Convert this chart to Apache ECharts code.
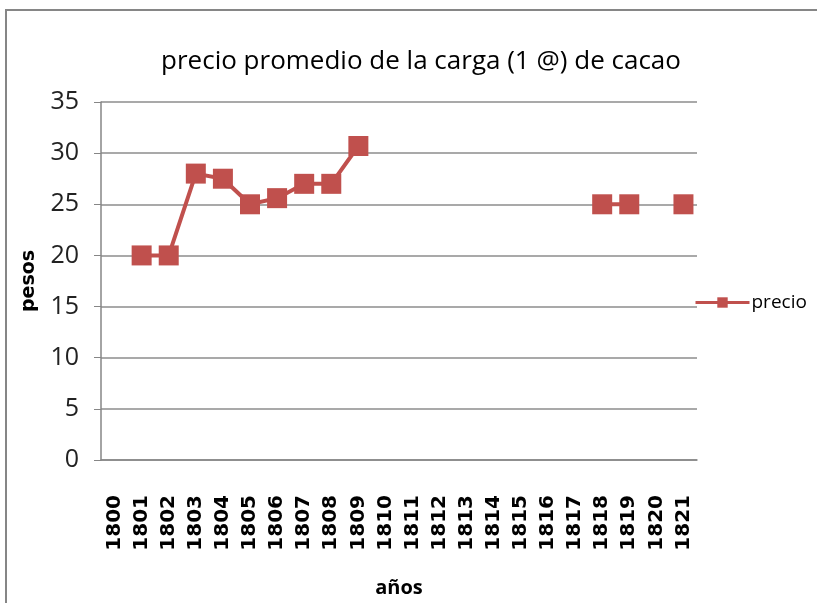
<!DOCTYPE html>
<html>
<head>
<meta charset="utf-8">
<script src="https://cdn.jsdelivr.net/npm/echarts@6/dist/echarts.min.js"></script>
<style>
  html, body { margin: 0; padding: 0; background: #fff; }
  #chart { width: 817px; height: 603px; }
</style>
</head>
<body>
<div id="chart"></div>
<script>
// años y precio promedio (pesos); huecos = sin dato
const years = ['1800', '1801', '1802', '1803', '1804', '1805', '1806', '1807', '1808', '1809', '1810',
  '1811', '1812', '1813', '1814', '1815', '1816', '1817', '1818', '1819', '1820', '1821']
const precio = [null, 20, 20, 28, 27.5, 25, 25.6, 27, 27, 30.7, null,
  null, null, null, null, null, null, null, 25, 25, null, 25]
const yTicks = { min: 0, max: 35, interval: 5 }

const narrow = '"Liberation Sans Narrow", "Open Sans", sans-serif'
const red = '#C0504D'

const chart = echarts.init(document.getElementById('chart'))

chart.setOption({
  animation: false,
  title: {
    text: 'precio promedio de la carga (1 @) de cacao',
    left: 416,
    top: 44,
    textAlign: 'center',
    textStyle: { fontFamily: narrow, fontSize: 26, fontWeight: 'normal', color: '#000' }
  },
  graphic: [{
    type: 'polyline',
    shape: { points: [[6, 603], [6, 10], [817, 10]] },
    style: { stroke: '#868686', lineWidth: 2, fill: null }
  }],
  legend: {
    left: 689,
    top: 288,
    itemWidth: 54,
    itemHeight: 13,
    itemGap: 4,
    lineStyle: { width: 3 },
    textStyle: { fontFamily: narrow, fontSize: 19, color: '#000', padding: [0, 0, 0, -3] },
    data: ['precio']
  },
  grid: { left: 101, right: 120, top: 102, bottom: 141 },
  xAxis: {
    type: 'category',
    data: years,
    name: 'años',
    nameLocation: 'middle',
    nameGap: 118,
    nameTextStyle: { fontFamily: narrow, fontSize: 20, fontWeight: 'bold', color: '#000' },
    axisLine: { lineStyle: { color: '#868686', width: 1.5 } },
    axisTick: { show: false },
    axisLabel: {
      rotate: 90,
      margin: 35,
      interval: 0,
      fontFamily: 'DejaVu Sans',
      fontWeight: 'bold',
      fontSize: 20,
      color: '#000'
    }
  },
  yAxis: {
    type: 'value',
    min: yTicks.min,
    max: yTicks.max,
    interval: yTicks.interval,
    name: 'pesos',
    nameLocation: 'middle',
    nameGap: 62,
    nameTextStyle: { fontFamily: 'DejaVu Sans', fontSize: 19, fontWeight: 'bold', color: '#000' },
    axisLine: { show: true, lineStyle: { color: '#868686', width: 1.5 } },
    axisTick: { show: true, inside: false, length: 7, lineStyle: { color: '#868686' } },
    axisLabel: { margin: 22, fontFamily: narrow, fontSize: 25, color: '#222' },
    splitLine: { lineStyle: { color: '#8c8c8c', width: 1.5 } }
  },
  series: [{
    name: 'precio',
    type: 'line',
    data: precio,
    connectNulls: false,
    symbol: 'rect',
    symbolSize: 20,
    itemStyle: { color: red },
    lineStyle: { color: red, width: 4 }
  }]
})
</script>
</body>
</html>
